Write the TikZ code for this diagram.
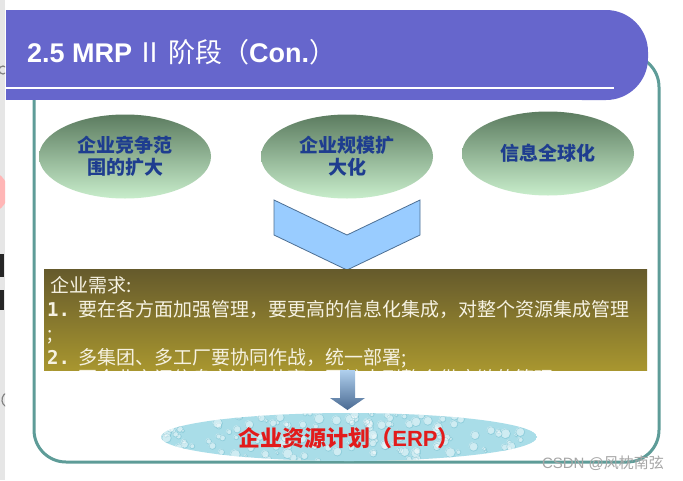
\documentclass[tikz,border=0pt]{standalone}
\usepackage{fontspec}
\setmainfont{Liberation Sans}
\newfontfamily\cjk{Noto Sans CJK SC}
\newfontfamily\monob{DejaVu Sans Mono}
\usetikzlibrary{shapes.geometric}
\definecolor{titlebar}{HTML}{6666CC}
\definecolor{frameteal}{HTML}{5E9C98}
\definecolor{elltop}{HTML}{5C7C60}
\definecolor{ellbot}{HTML}{C8EDCB}
\definecolor{elltext}{HTML}{1E3D8F}
\definecolor{chevfill}{HTML}{99CCFF}
\definecolor{chevline}{HTML}{4D6F93}
\definecolor{boxtop}{HTML}{655A2C}
\definecolor{boxbot}{HTML}{A8962F}
\definecolor{boxtext}{HTML}{F6F2E2}
\definecolor{arrtop}{HTML}{B0D0EE}
\definecolor{arrbot}{HTML}{4A6A92}
\definecolor{water}{HTML}{A9DDE8}
\definecolor{waterdark}{HTML}{6FBACB}
\definecolor{erpred}{HTML}{E21B1B}
\definecolor{stripgray}{HTML}{E6E6E6}
\begin{document}
\begin{tikzpicture}[x=1pt,y=-1pt,
  ell/.style={ellipse, minimum width=172pt, minimum height=84pt, inner sep=0pt,
    top color=elltop, bottom color=ellbot, text=elltext, align=center,
    font=\cjk\bfseries\fontsize{19}{22}\selectfont},
  boxline/.style={anchor=base west, inner sep=0pt, text=boxtext,
    font=\cjk\fontsize{19}{24}\selectfont},
  chevron/.style={fill=chevfill, draw=chevline, line width=0.8pt, line join=miter},
  erpell/.style={ellipse, minimum width=376pt, minimum height=48pt, inner sep=0pt},
  erptext/.style={text=erpred, font=\cjk\bfseries\fontsize{22}{24}\selectfont},
  wmtext/.style={font=\fontsize{15}{16}\selectfont, inner sep=0pt}]
\useasboundingbox (0,0) rectangle (683,480);
\fill[white] (0,0) rectangle (683,480);

% left screenshot strip
\fill[stripgray] (0,0) rectangle (5,480);
\begin{scope}
  \clip (0,0) rectangle (5,480);
  \fill[red!30!pink!60!white] (-14,192) circle[radius=22pt];
  \fill[black!85] (0,254) rectangle (4,277);
  \fill[black!85] (0,290) rectangle (4,310);
  \draw[gray, line width=1.2pt] (6,393) arc[start angle=120, end angle=240, radius=8pt];
  \draw[gray, line width=1.2pt] (3,70) circle[radius=4pt];
\end{scope}

% frame
\draw[frameteal, line width=3pt, rounded corners=32pt] (34,55) rectangle (659,462);

% title bar
\fill[titlebar] (6,10) rectangle (600,100);
\fill[titlebar, rounded corners=42pt] (540,10) rectangle (648,100);
\draw[white, line width=1.8pt] (6,88) -- (614,88);
\node[anchor=base west, inner sep=0pt, text=white,
  font=\fontsize{27}{30}\selectfont\bfseries] (title) at (27,62)
  {2.5 MRP\,{\cjk\mdseries Ⅱ}\,{\cjk\mdseries 阶段（}Con.{\cjk\mdseries ）}};

% three ellipses
\node[ell] (e1) at (125,156.5) {企业竞争范\\围的扩大};
\node[ell] (e2) at (347,156.5) {企业规模扩\\大化};
\node[ell] (e3) at (548,153.5) {信息全球化};

% chevron
\coordinate (cv) at (347,235);
\draw[chevron] (274,200) -- (cv) -- (420,200) -- (420,235) -- (347,270) -- (274,235) -- cycle;

% requirement box
\shade[top color=boxtop, bottom color=boxbot] (44,269) rectangle (647,370);
\begin{scope}
  \clip (44,269) rectangle (647,370);
  \node[boxline] (r0) at (50,292) {企业需求:};
  \node[boxline] (r1) at (47,316) {{\monob\bfseries 1.}\hspace{8pt}要在各方面加强管理，要更高的信息化集成，对整个资源集成管理};
  \node[boxline] (r2) at (47,340) {;};
  \node[boxline] (r3) at (47,364) {{\monob\bfseries 2.}\hspace{8pt}多集团、多工厂要协同作战，统一部署;};
  \node[boxline] (r4) at (47,385) {{\monob\bfseries 3.}\hspace{8pt}要企业之间信息交流与共享，要扩大到整个供应链的管理};
\end{scope}

% down arrow
\coordinate (atip) at (347.5,410);
\shade[top color=arrtop, bottom color=arrbot]
  (340,370) -- (355,370) -- (355,398) -- (365,398) -- (atip) -- (330,398) -- (340,398) -- cycle;

% ERP ellipse with water texture
\begin{scope}
  \clip (349,437) ellipse [x radius=188pt, y radius=24pt];
  \fill[water] (349,437) ellipse [x radius=188pt, y radius=24pt];
  \pgfmathsetseed{11}
  \foreach \i in {1,...,170}{
    \pgfmathsetmacro\xx{161+376*rnd}
    \pgfmathsetmacro\yy{413+48*rnd}
    \pgfmathsetmacro\rr{1.5+3.5*rnd}
    \fill[white, opacity=0.45] (\xx,\yy) circle[radius=\rr pt];
    \draw[waterdark, opacity=0.5, line width=0.5pt] (\xx+0.6,\yy+0.6) circle[radius=\rr pt];
  }
\end{scope}
\node[erpell] (erp) at (349,437) {};
\node[erptext] (erpt) at (349,438) {企业资源计划（{\rmfamily ERP}）};

% watermark
\node[wmtext, text=gray!70] (wm) at (603,463) {CSDN @{\cjk 风枕南弦}};
\end{tikzpicture}
\end{document}
